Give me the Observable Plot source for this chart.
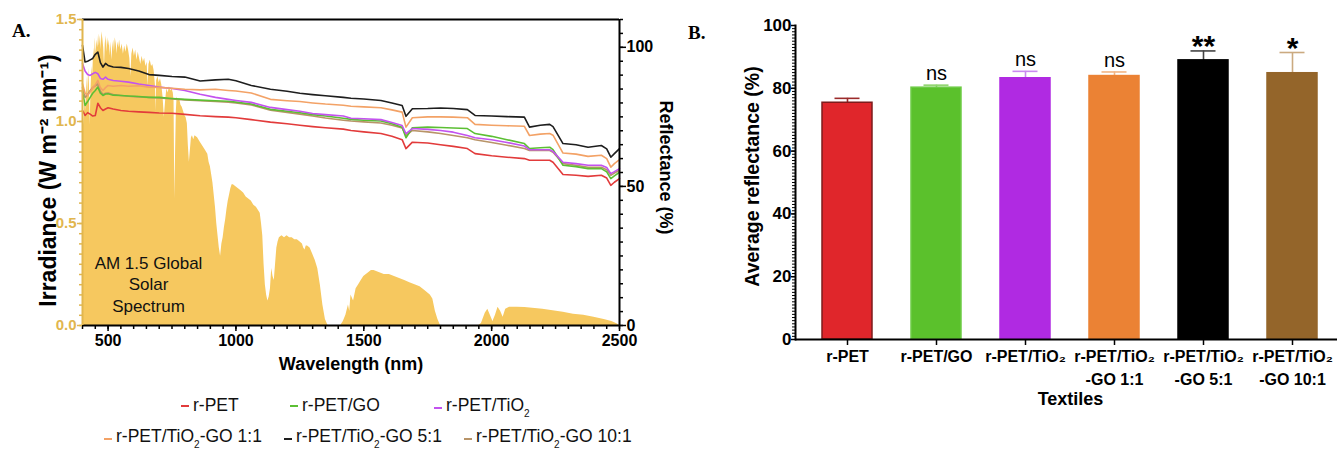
<!DOCTYPE html>
<html><head><meta charset="utf-8">
<script src="https://cdn.jsdelivr.net/npm/d3@7"></script>
<script src="https://cdn.jsdelivr.net/npm/@observablehq/plot@0.6"></script>
<style>
body{margin:0;background:#fff;width:1337px;height:452px;position:relative;overflow:hidden;font-family:"Liberation Sans",Arial,sans-serif;color:#000;}
#a{position:absolute;left:0;top:0;}
#b{position:absolute;left:680px;top:0;}
.panel-letter{position:absolute;font-family:"Liberation Serif","Times New Roman",serif;font-weight:bold;font-size:19px;line-height:1;}
.legend-item{position:absolute;font-size:17.5px;white-space:nowrap;display:flex;align-items:center;line-height:1;color:#111;}
.legend-item .sw{display:inline-block;width:8px;height:2px;margin-right:4px;}
.legend-item sub{font-size:10px;vertical-align:-6px;}
</style></head><body>
<div id="a"></div><div id="b"></div>
<div class="panel-letter" style="left:12px;top:21px">A.</div>
<div class="panel-letter" style="left:688px;top:23px">B.</div>
<div id="legend"></div>
<script>
// ---------- Panel A data ----------
const wavelength = [400,410,420,430,440,450,460,470,480,490,500,520,550,580,620,660,700,750,800,860,920,970,1000,1060,1135,1200,1250,1300,1350,1420,1450,1500,1567,1610,1650,1665,1690,1750,1800,1850,1905,1935,2000,2060,2128,2148,2190,2227,2240,2279,2330,2377,2429,2450,2466,2480,2500];
const rPET = [77.3,75.5,76.5,76.0,75.3,75.5,79.9,78.3,77.3,77.8,78.3,77.8,77.3,77.0,76.8,76.6,76.4,76.3,75.9,75.4,75.1,74.9,74.7,74.0,73.1,72.5,72.0,71.5,71.1,70.6,70.1,69.6,69.0,68.0,66.8,63.6,65.9,65.6,65.0,64.4,63.6,61.8,61.0,60.5,60.0,59.4,59.4,59.4,58.7,54.3,54.0,53.6,54.0,53.0,50.4,51.5,52.8];
const rPET_GO = [84.0,79.1,80.5,82.0,83.5,84.5,85.7,83.5,82.7,83.2,83.3,82.8,82.7,82.5,82.3,82.0,82.0,81.6,81.3,81.0,80.8,80.6,80.3,79.6,77.7,77.0,76.5,75.8,75.3,74.5,74.1,73.8,73.5,72.5,71.3,67.5,71.1,71.3,71.2,71.0,70.8,69.0,68.0,66.8,65.4,63.6,63.9,64.1,63.2,57.6,57.1,56.4,56.4,55.2,52.8,53.8,55.1];
const rPET_TiO2 = [94.2,91.5,90.2,89.9,90.5,91.0,90.5,88.8,88.5,89.3,88.5,88.1,87.8,87.5,86.8,86.3,85.7,85.2,84.5,83.1,82.0,81.3,80.9,80.2,78.4,77.6,77.0,76.2,75.8,75.3,74.5,74.3,74.0,73.0,71.9,69.0,70.8,70.5,70.1,69.5,68.3,67.5,66.8,65.8,64.5,63.2,63.2,63.2,62.6,58.7,58.2,57.6,57.6,56.8,54.6,55.3,56.4];
const rPET_TiO2_GO_1_1 = [86.9,83.5,82.7,84.0,85.5,86.5,88.1,85.5,84.5,85.5,86.3,86.0,86.3,86.0,86.2,85.7,85.6,85.3,84.9,84.7,84.9,84.5,84.3,83.6,81.3,80.8,80.5,80.0,79.6,79.2,78.8,78.6,78.3,77.5,76.7,71.3,74.7,75.0,75.0,74.9,74.7,72.3,72.0,71.8,71.6,68.3,68.8,69.0,68.4,62.0,61.6,60.8,61.2,60.0,56.9,58.2,59.6];
const rPET_TiO2_GO_5_1 = [100.7,94.7,95.0,95.5,96.0,97.5,98.3,94.5,92.9,94.2,93.5,92.9,92.8,92.4,91.5,90.2,89.9,89.5,89.3,87.9,88.3,88.5,88.0,86.3,84.9,84.2,83.5,83.0,82.6,82.0,81.7,81.4,80.9,80.0,79.1,75.2,77.9,78.0,78.2,78.0,77.6,75.5,75.3,75.1,74.9,71.3,72.0,72.3,71.5,65.4,65.0,64.1,64.7,63.5,60.5,61.8,63.6];
const rPET_TiO2_GO_10_1 = [85.5,82.0,83.0,84.5,85.5,86.2,86.8,84.2,83.0,83.5,83.6,83.0,82.7,82.4,82.2,82.0,81.8,81.4,81.1,80.8,80.5,80.3,80.0,79.3,77.4,76.6,76.0,75.3,74.6,73.8,73.5,73.2,72.8,72.0,71.0,68.3,70.1,69.6,69.0,68.3,67.5,66.8,65.8,64.8,63.6,62.9,62.9,62.9,62.3,58.2,57.6,56.9,56.9,56.0,54.0,54.8,55.8];
const seriesNames = ["r-PET","r-PET/GO","r-PET/TiO₂","r-PET/TiO₂-GO 1:1","r-PET/TiO₂-GO 5:1","r-PET/TiO₂-GO 10:1"];
const seriesColors = ["#e23b3b","#5cbf34","#c352ef","#f3a266","#1e1e1e","#b89468"];

// AM 1.5 Global solar spectrum [wavelength nm, irradiance W m-2 nm-1]
const solarSpectrum = [
[400,0.95],[403,1.08],[406,0.98],[410,1.12],[413,1.05],[417,1.22],[420,1.12],[424,1.26],[427,1.18],[430,0.98],[433,1.15],[437,1.27],[440,1.22],[444,1.36],[447,1.30],[450,1.41],[453,1.33],[457,1.40],[460,1.36],[463,1.43],[466,1.37],[470,1.42],[473,1.35],[476,1.44],[480,1.40],[483,1.36],[486,1.27],[489,1.38],[492,1.42],[495,1.34],[498,1.41],[502,1.37],[505,1.40],[508,1.32],[511,1.39],[515,1.30],[518,1.36],[522,1.40],[525,1.34],[528,1.41],[532,1.38],[535,1.33],[538,1.39],[542,1.36],[545,1.40],[550,1.35],[555,1.38],[560,1.33],[565,1.37],[570,1.34],[575,1.38],[580,1.35],[585,1.31],[589,1.22],[593,1.33],[598,1.36],[603,1.32],[608,1.35],[613,1.30],[618,1.34],[623,1.31],[628,1.28],[633,1.32],[638,1.29],[643,1.31],[648,1.27],[653,1.29],[656,1.17],[660,1.28],[665,1.30],[670,1.27],[675,1.28],[680,1.25],[685,1.18],[687,1.05],[690,1.20],[695,1.22],[700,1.19],[705,1.21],[710,1.18],[715,1.12],[720,1.02],[725,1.10],[730,1.16],[735,1.14],[740,1.17],[745,1.15],[750,1.16],[755,1.14],[758,1.10],[761,0.62],[764,0.85],[767,1.05],[770,1.12],[775,1.10],[780,1.11],[785,1.08],[790,1.07],[795,1.05],[800,1.03],[805,1.02],[810,0.99],[814,0.88],[818,0.80],[822,0.86],[826,0.92],[830,0.93],[835,0.91],[840,0.93],[850,0.92],[860,0.90],[870,0.88],[880,0.86],[890,0.84],[895,0.80],[900,0.78],[905,0.74],[910,0.70],[915,0.64],[920,0.58],[925,0.50],[930,0.44],[935,0.38],[940,0.34],[945,0.40],[950,0.43],[955,0.48],[960,0.52],[965,0.57],[970,0.61],[975,0.64],[980,0.67],[985,0.69],[990,0.69],[1000,0.68],[1010,0.67],[1020,0.66],[1030,0.65],[1040,0.63],[1050,0.62],[1060,0.61],[1070,0.59],[1080,0.58],[1090,0.56],[1095,0.55],[1100,0.50],[1105,0.44],[1110,0.30],[1115,0.20],[1120,0.15],[1125,0.12],[1130,0.14],[1135,0.18],[1140,0.28],[1145,0.24],[1150,0.22],[1155,0.30],[1160,0.38],[1165,0.41],[1170,0.43],[1180,0.44],[1190,0.43],[1200,0.44],[1210,0.43],[1220,0.43],[1230,0.42],[1240,0.42],[1250,0.41],[1260,0.40],[1265,0.38],[1270,0.37],[1275,0.39],[1280,0.39],[1290,0.38],[1300,0.35],[1310,0.32],[1320,0.28],[1330,0.20],[1340,0.10],[1350,0.03],[1360,0.0],[1410,0.0],[1420,0.02],[1430,0.05],[1440,0.10],[1445,0.07],[1450,0.15],[1460,0.12],[1470,0.18],[1480,0.20],[1490,0.22],[1500,0.24],[1510,0.25],[1520,0.26],[1530,0.27],[1540,0.27],[1550,0.265],[1560,0.26],[1580,0.25],[1600,0.25],[1620,0.24],[1640,0.23],[1660,0.22],[1680,0.21],[1700,0.20],[1720,0.19],[1740,0.17],[1760,0.15],[1770,0.13],[1780,0.07],[1790,0.03],[1800,0.0],[1950,0.0],[1960,0.01],[1975,0.06],[1985,0.08],[1995,0.05],[2005,0.02],[2015,0.05],[2025,0.09],[2035,0.07],[2045,0.04],[2055,0.08],[2070,0.09],[2100,0.09],[2130,0.088],[2160,0.085],[2200,0.08],[2240,0.072],[2280,0.065],[2320,0.055],[2360,0.05],[2400,0.04],[2440,0.03],[2470,0.02],[2490,0.008],[2500,0.0]
];
const irradianceTicks = [0, 0.5, 1.0, 1.5];
const reflectanceTicks = [0, 50, 100];
const wavelengthTicks = [500, 1000, 1500, 2000, 2500];

// ---------- Panel B data ----------
const textiles = ["r-PET","r-PET/GO","r-PET/TiO₂","r-PET/TiO₂-GO 1:1","r-PET/TiO₂-GO 5:1","r-PET/TiO₂-GO 10:1"];
const textileLabels = ["r-PET","r-PET/GO","r-PET/TiO₂","r-PET/TiO₂\n-GO 1:1","r-PET/TiO₂\n-GO 5:1","r-PET/TiO₂\n-GO 10:1"];
const avgReflectance = [75.4, 80.2, 83.2, 83.9, 88.9, 84.8];
const errReflectance = [1.4, 0.8, 2.2, 1.3, 3.0, 6.6];
const significance = ["", "ns", "ns", "ns", "**", "*"];
const barColors = ["#e0262b","#5bc12c","#b02ae2","#eb8234","#000000","#94652a"];
const barStrokes = ["#7d1d1d","#6dcb45","#b02ae2","#eb8234","#000000","#94652a"];
const errColors = ["#9b2b2b","#8fd46d","#c98af0","#f2b483","#444444","#cbaa80"];

// ---------- Panel A ----------
const gold = "#e1b64e";
const k = 110 / 1.5; // irradiance -> reflectance-axis units (1.5 W aligns with 110 %)
const seriesValues = [rPET, rPET_GO, rPET_TiO2, rPET_TiO2_GO_1_1, rPET_TiO2_GO_5_1, rPET_TiO2_GO_10_1];
const drawOrder = [5, 0, 1, 2, 3, 4];
const lineData = drawOrder.flatMap(si => wavelength.map((w, i) => ({wl: w, r: seriesValues[si][i], name: seriesNames[si], color: seriesColors[si]})));
const solar = solarSpectrum.map(([w, v]) => ({wl: w, irr: v}));

const plotA = Plot.plot({
  width: 680, height: 452,
  marginLeft: 82, marginRight: 61, marginTop: 19, marginBottom: 127,
  style: {fontFamily: "'Liberation Sans', Arial, sans-serif", fontSize: "16px", fontWeight: "bold", color: "#000", background: "transparent", overflow: "visible"},
  x: {domain: [400, 2500]},
  y: {domain: [0, 110]},
  color: {type: "identity"},
  marks: [
    Plot.areaY(solar, {x: "wl", y: d => d.irr * k, fill: "#f6c85f"}),
    Plot.text(["AM 1.5 Global\nSolar\nSpectrum"], {frameAnchor: "bottom-left", dx: 66, dy: -42, textAnchor: "middle", lineAnchor: "middle", fontSize: 17, fontWeight: "normal", lineHeight: 1.27, fill: "#111"}),
    Plot.line(lineData, {x: "wl", y: "r", z: "name", stroke: "color", strokeWidth: 1.6}),
    Plot.ruleY([0], {strokeWidth: 2}),
    Plot.ruleY([110], {strokeWidth: 2}),
    Plot.ruleX([2500], {strokeWidth: 2}),
    Plot.ruleX([400], {stroke: gold, strokeWidth: 2}),
    Plot.axisX(wavelengthTicks, {tickSize: 6, tickPadding: 3, strokeWidth: 1.5, fontSize: 16, tickFormat: d => String(d), label: null}),
    Plot.axisX(d3.range(400, 2501, 50), {tickSize: 4, tickFormat: () => "", strokeWidth: 1.5, label: null}),
    Plot.axisY(irradianceTicks.map(v => v * k), {anchor: "left", tickSize: 5, tickPadding: 1, tickFormat: d => (d / k).toFixed(1), color: gold, strokeWidth: 1.5, fontSize: 15, label: null}),
    Plot.axisY(d3.range(0, 31).map(i => i * 0.05 * k), {anchor: "left", tickSize: 3, tickFormat: () => "", color: gold, strokeWidth: 1.5, label: null}),
    Plot.axisY(reflectanceTicks, {anchor: "right", tickSize: 6, tickPadding: 1, strokeWidth: 1.5, fontSize: 16, label: null}),
    Plot.axisY(d3.range(0, 111, 5), {anchor: "right", tickSize: 3, tickFormat: () => "", strokeWidth: 1.5, label: null}),
    Plot.text(["Irradiance (W m⁻² nm⁻¹)"], {frameAnchor: "left", textAnchor: "middle", rotate: -90, dx: -34, dy: 8, fontSize: 23}),
    Plot.text(["Reflectance (%)"], {frameAnchor: "right", textAnchor: "middle", rotate: 90, dx: 46, dy: -5, fontSize: 18}),
    Plot.text(["Wavelength (nm)"], {frameAnchor: "bottom", lineAnchor: "top", dy: 32, fontSize: 18})
  ]
});
document.getElementById("a").appendChild(plotA);

// legend (HTML)
const legendOrder = [0, 1, 2, 3, 4, 5];
const legendLeft = [181, 290, 434, 104, 284, 464];
const legendTop = [397, 397, 397, 428, 428, 428];
const legend = document.getElementById("legend");
legendOrder.forEach((si, j) => {
  const item = document.createElement("div");
  item.className = "legend-item";
  item.style.left = legendLeft[j] + "px";
  item.style.top = legendTop[j] + "px";
  const sw = document.createElement("span");
  sw.className = "sw";
  sw.style.background = seriesColors[si];
  item.appendChild(sw);
  const label = document.createElement("span");
  label.innerHTML = seriesNames[si].replace("₂", "<sub>2</sub>");
  item.appendChild(label);
  legend.appendChild(item);
});

// ---------- Panel B ----------
const bars = textiles.map((t, i) => ({t, m: avgReflectance[i], e: errReflectance[i], s: significance[i], fill: barColors[i], stroke: barStrokes[i], ec: errColors[i], label: textileLabels[i]}));
const plotB = Plot.plot({
  width: 657, height: 452,
  marginLeft: 115, marginRight: 0, marginTop: 25, marginBottom: 113,
  style: {fontFamily: "'Liberation Sans', Arial, sans-serif", fontSize: "16px", fontWeight: "bold", color: "#000", background: "transparent", overflow: "visible"},
  x: {domain: textiles, paddingInner: 0.44, paddingOuter: 0.22, insetLeft: 7},
  y: {domain: [0, 100]},
  color: {type: "identity"},
  marks: [
    Plot.ruleX(bars, {x: "t", y1: "m", y2: d => d.m + d.e, stroke: "ec", strokeWidth: 1.6}),
    Plot.tickY(bars, {x: "t", y: d => d.m + d.e, stroke: "ec", strokeWidth: 1.6, insetLeft: 12.5, insetRight: 12.5}),
    Plot.barY(bars, {x: "t", y: "m", fill: "fill", stroke: "stroke", strokeWidth: 1.5}),
    Plot.text(bars.filter(d => d.s === "ns"), {x: "t", y: d => d.m + d.e, text: "s", lineAnchor: "bottom", dy: -5, fontSize: 20, fontWeight: "normal"}),
    Plot.text(bars.filter(d => d.s.startsWith("*")), {x: "t", y: d => d.m + d.e, text: "s", lineAnchor: "bottom", dy: 5, fontSize: 30}),
    Plot.ruleY([0], {strokeWidth: 2}),
    Plot.frame({anchor: "left", strokeWidth: 2}),
    Plot.axisY(d3.range(0, 101, 20), {tickSize: 4, tickPadding: 0, strokeWidth: 1.5, fontSize: 17, label: null}),
    Plot.axisY(d3.range(0, 101, 1), {tickSize: 3, tickFormat: () => "", strokeWidth: 1, label: null}),
    Plot.axisX({tickSize: 6, tickFormat: () => "", strokeWidth: 1.5, label: null}),
    Plot.text(bars, {x: "t", frameAnchor: "bottom", text: "label", lineAnchor: "top", dy: 6, lineHeight: 1.45, fontSize: 16}),
    Plot.text(["Textiles"], {frameAnchor: "bottom", lineAnchor: "top", dy: 53, dx: 4, fontSize: 18}),
    Plot.text(["Average reflectance (%)"], {frameAnchor: "left", textAnchor: "middle", rotate: -90, dx: -43, dy: -6, fontSize: 19.5})
  ]
});
document.getElementById("b").appendChild(plotB);
</script>
</body></html>
